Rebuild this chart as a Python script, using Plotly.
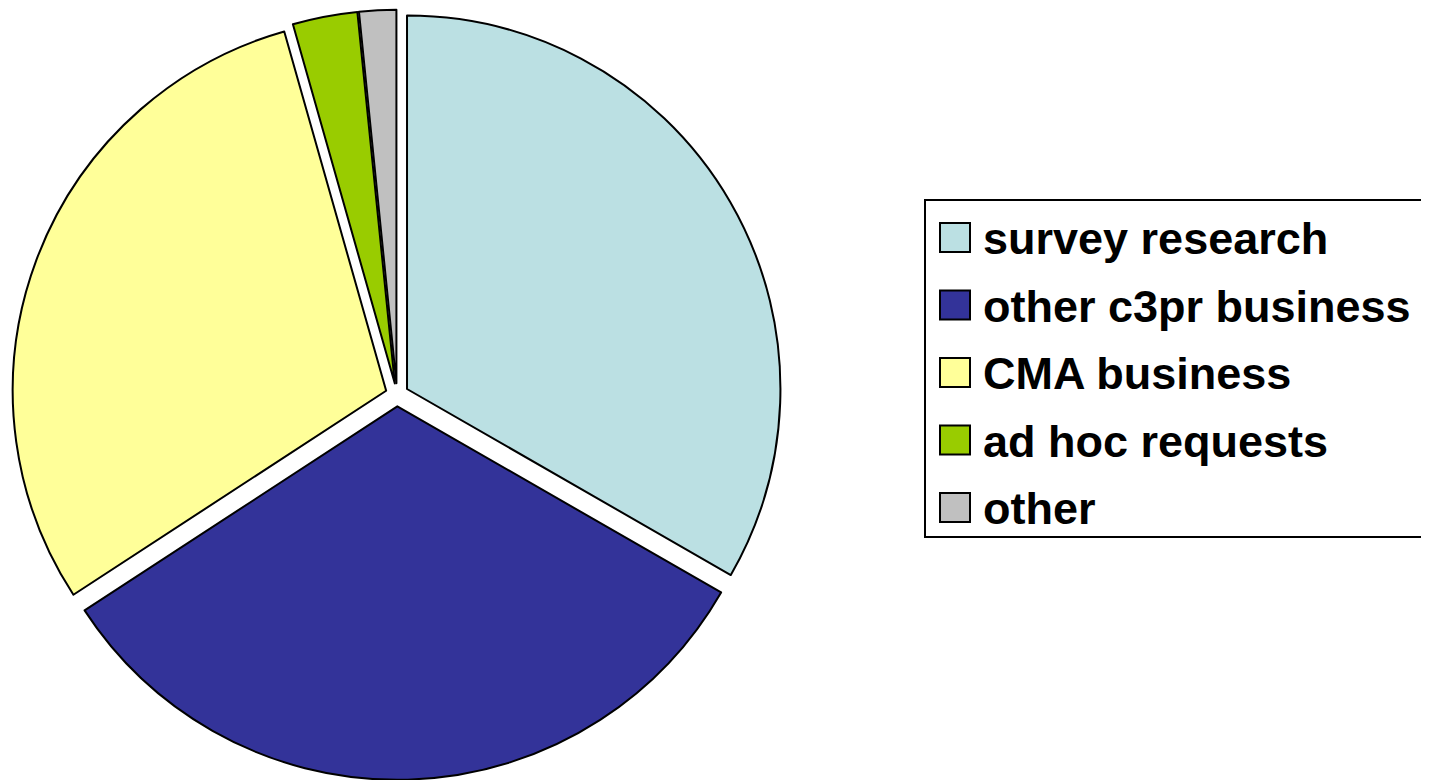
import plotly.graph_objects as go

categories = ["survey research", "other c3pr business", "CMA business", "ad hoc requests", "other"]
values = [33.3, 32.5, 29.8, 2.8, 1.6]
colors = ["#BBE0E3", "#333399", "#FFFF99", "#99CC00", "#C0C0C0"]

W, H = 1429, 780
OFF = 8  # page body margin offset

fig = go.Figure()
fig.add_trace(go.Pie(
    labels=categories,
    values=values,
    sort=False,
    direction="clockwise",
    rotation=0,
    pull=[0.031] * len(values),
    marker=dict(colors=colors, line=dict(color="black", width=2)),
    textinfo="none",
    showlegend=False,
    domain=dict(x=[4 / W, 774 / W], y=[1 - 771.8 / H, 1 - 1.8 / H]),
))

def px_x(p):
    return (p - OFF) / W

def px_y(p):
    return 1 - (p - OFF) / H

shapes = [dict(type="rect", xref="paper", yref="paper",
               x0=px_x(925), x1=px_x(1428), y0=px_y(537), y1=px_y(200),
               line=dict(color="black", width=2), fillcolor="white", layer="below")]
annotations = []
row0, step = 237.5, 67.5
for i, (cat, col) in enumerate(zip(categories, colors)):
    cy = row0 + i * step
    shapes.append(dict(type="rect", xref="paper", yref="paper",
                       x0=px_x(940), x1=px_x(970), y0=px_y(cy + 14.5), y1=px_y(cy - 14.5),
                       line=dict(color="black", width=2), fillcolor=col))
    annotations.append(dict(xref="paper", yref="paper", x=px_x(981), y=px_y(cy + 1),
                            text=cat, showarrow=False, xanchor="left", yanchor="middle",
                            font=dict(family="Liberation Sans, Arial, sans-serif", size=45,
                                      color="black", weight="bold")))

fig.update_layout(
    width=W, height=H,
    margin=dict(l=0, r=0, t=0, b=0),
    paper_bgcolor="white",
    plot_bgcolor="white",
    shapes=shapes,
    annotations=annotations,
    showlegend=False,
)

fig.write_html("out.html")
